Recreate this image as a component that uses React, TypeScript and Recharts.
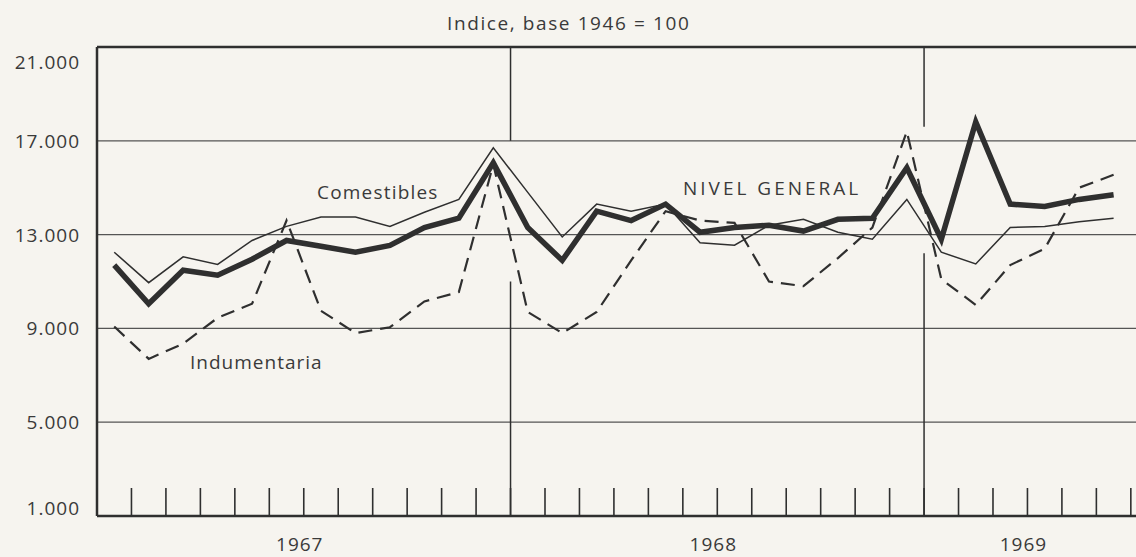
import React from 'react';
import { LineChart, Line, XAxis, YAxis, CartesianGrid, ReferenceLine } from 'recharts';

// monthly index, Jan 1967 .. Jun 1969 (base 1946 = 100)
const nivelGeneral = [
  11700, 10050, 11480, 11270, 11950, 12750, 12500, 12250, 12540, 13300, 13700, 16060,
  13300, 11900, 14000, 13600, 14300, 13100, 13300, 13400, 13150, 13650, 13700, 15850,
  12800, 17800, 14300, 14200, 14500, 14700,
];
const comestibles = [
  12250, 10950, 12050, 11730, 12750, 13350, 13750, 13750, 13350, 13950, 14500, 16700,
  14800, 12900, 14300, 14000, 14300, 12650, 12550, 13400, 13650, 13100, 12800, 14500,
  12250, 11750, 13300, 13350, 13550, 13700,
];
const indumentaria = [
  9080, 7700, 8350, 9450, 10050, 13600, 9750, 8800, 9050, 10150, 10550, 16000,
  9700, 8800, 9700, 11900, 14000, 13600, 13500, 11000, 10800, 12000, 13300, 17400,
  11100, 10000, 11700, 12400, 15000, 15550,
];

const yTicks = [1000, 5000, 9000, 13000, 17000, 21000];
const monthTicks = [
  0, 1, 2, 3, 4, 5, 6, 7, 8, 9, 10, 11, 12, 13, 14, 15, 16, 17, 18, 19, 20,
  21, 22, 23, 24, 25, 26, 27, 28, 29, 30,
];
const yearTicks = [6, 18, 27];
const yearLabels = ['1967', '1968', '1969'];
// year dividers, broken where the curves pass
const dividers = [
  { x: 12, parts: [[21000, 17000], [11000, 1000]] },
  { x: 24, parts: [[21000, 17600], [12200, 1000]] },
];

const ink = '#2f2f2f';
const textInk = '#3a3a3a';
const font = '"Open Sans", sans-serif';

const data = nivelGeneral.map((v, i) => ({
  m: i + 0.5,
  nivel: v,
  com: comestibles[i],
  ind: indumentaria[i],
}));

const fmt = (v: number) => (v / 1000).toFixed(3);

function YTick({ x, y, payload }: any) {
  const shift = payload.value === 21000 ? 15 : payload.value === 1000 ? -8 : 0;
  return (
    <text x={x - 17} y={y + shift} dy={7} textAnchor="end" fontSize={19} fill={textInk} fontFamily={font} letterSpacing={1}>
      {fmt(payload.value)}
    </text>
  );
}

function MonthTick({ x, y, payload }: any) {
  const idx = yearTicks.indexOf(payload.value);
  return (
    <g>
      <line x1={x} x2={x} y1={y} y2={y - 28} stroke={ink} strokeWidth={1.6} />
      {idx >= 0 && (
        <text x={x - 4} y={y + 35} textAnchor="middle" fontSize={19} fill={textInk} fontFamily={font} letterSpacing={1}>
          {yearLabels[idx]}
        </text>
      )}
    </g>
  );
}

const labelStyle: React.CSSProperties = {
  position: 'absolute',
  fontFamily: font,
  fontSize: 19,
  lineHeight: '20px',
  color: textInk,
  whiteSpace: 'nowrap',
};

export default function App() {
  return (
    <div style={{ position: 'absolute', left: 0, top: 0, width: 1136, height: 557, background: '#f6f4ef', overflow: 'hidden' }}>
      <LineChart width={1136} height={557} data={data} margin={{ top: 47, right: 0, bottom: 0, left: 0 }}>
        <CartesianGrid vertical={false} stroke="#555" strokeWidth={1.2} />
        <XAxis
          dataKey="m"
          type="number"
          domain={[0, 30.15]}
          ticks={monthTicks}
          tick={<MonthTick />}
          tickLine={false}
          tickSize={0}
          tickMargin={0}
          height={41}
          axisLine={{ stroke: ink, strokeWidth: 2.5 }}
          interval={0}
        />
        <YAxis
          type="number"
          domain={[1000, 21000]}
          ticks={yTicks}
          tick={<YTick />}
          tickLine={false}
          tickSize={0}
          tickMargin={0}
          width={97}
          axisLine={{ stroke: ink, strokeWidth: 2.5 }}
          interval={0}
        />
        <ReferenceLine y={21000} stroke={ink} strokeWidth={2.5} />
        {dividers.map((d) =>
          d.parts.map(([y1, y2]) => (
            <ReferenceLine
              key={`${d.x}-${y1}`}
              segment={[{ x: d.x, y: y1 }, { x: d.x, y: y2 }]}
              stroke={ink}
              strokeWidth={1.5}
            />
          ))
        )}
        <Line type="linear" dataKey="ind" stroke={ink} strokeWidth={2.2} strokeDasharray="14 8" dot={false} isAnimationActive={false} />
        <Line type="linear" dataKey="com" stroke={ink} strokeWidth={1.5} dot={false} isAnimationActive={false} />
        <Line type="linear" dataKey="nivel" stroke={ink} strokeWidth={5.5} dot={false} strokeLinejoin="miter" isAnimationActive={false} />
      </LineChart>
      <div style={{ ...labelStyle, left: 447, top: 13, letterSpacing: 1.6 }}>Indice, base 1946 = 100</div>
      <div style={{ ...labelStyle, left: 317, top: 182, letterSpacing: 1.2 }}>Comestibles</div>
      <div style={{ ...labelStyle, left: 190, top: 352, letterSpacing: 1 }}>Indumentaria</div>
      <div style={{ ...labelStyle, left: 683, top: 178, letterSpacing: 3 }}>NIVEL GENERAL</div>
    </div>
  );
}
